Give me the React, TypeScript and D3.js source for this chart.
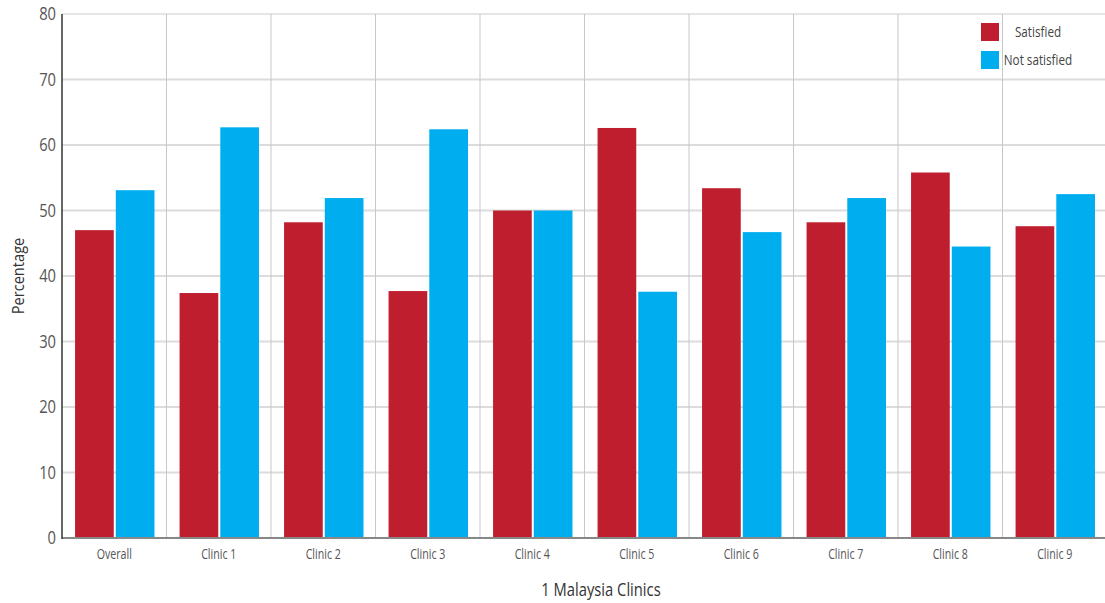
import React from "react";
import * as d3 from "d3";

const categories = ["Overall", "Clinic 1", "Clinic 2", "Clinic 3", "Clinic 4", "Clinic 5", "Clinic 6", "Clinic 7", "Clinic 8", "Clinic 9"];
const satisfied = [47.0, 37.4, 48.2, 37.7, 50.0, 62.6, 53.4, 48.2, 55.8, 47.6];
const notSatisfied = [53.1, 62.7, 51.9, 62.4, 50.0, 37.6, 46.7, 51.9, 44.5, 52.5];
const yTicks = [0, 10, 20, 30, 40, 50, 60, 70, 80];
const seriesNames = ["Satisfied", "Not satisfied"];
const colors = ["#BE1E2D", "#00AEEF"];

const W = 1105, H = 603;
const M = { left: 62, top: 14, right: 1107, bottom: 538 };
const FONT = "'Open Sans', sans-serif";

function T(props: { x: number; y: number; sx?: number; rot?: number; size: number; fill: string; anchor?: string; dy?: string; children: React.ReactNode }) {
  const { x, y, sx = 0.8, rot = 0, size, fill, anchor = "middle", dy, children } = props;
  return (
    <text transform={`translate(${x},${y}) rotate(${rot}) scale(${sx},1)`} textAnchor={anchor} fontSize={size} fill={fill} dy={dy}>
      {children}
    </text>
  );
}

export default function App() {
  const x = d3.scaleBand<string>().domain(categories).range([M.left, M.right]).paddingInner(0).paddingOuter(0);
  const y = d3.scaleLinear().domain([0, 80]).range([M.bottom, M.top]);
  const bw = x.bandwidth();
  const inner = d3.scaleBand<string>().domain(seriesNames).range([bw * 0.125, bw * 0.885]).paddingInner(0.05);
  const series = [satisfied, notSatisfied];

  return (
    <svg width={W} height={H} style={{ position: "fixed", left: 0, top: 0, background: "#fff" }} fontFamily={FONT}>
      {yTicks.map((t) => (
        <line key={"h" + t} x1={M.left} x2={W} y1={y(t)} y2={y(t)} stroke="#dcdcdc" strokeWidth={t === 80 ? 1.5 : 2} />
      ))}
      {categories.slice(1).map((c) => (
        <line key={"v" + c} x1={x(c)!} x2={x(c)!} y1={M.top} y2={M.bottom} stroke="#c8c8c8" strokeWidth={1} />
      ))}
      {categories.map((c, i) =>
        series.map((s, j) => (
          <rect key={c + j} x={x(c)! + inner(seriesNames[j])!} width={inner.bandwidth()} y={y(s[i])} height={y(0) - y(s[i])} fill={colors[j]} />
        ))
      )}
      <line x1={M.left} x2={W} y1={M.bottom} y2={M.bottom} stroke="#888" strokeWidth={2} />
      <line x1={M.left} x2={M.left} y1={M.top} y2={M.bottom + 1} stroke="#333" strokeWidth={1.5} />
      {yTicks.map((t) => (
        <T key={"yt" + t} x={M.left - 6} y={y(t)} dy="0.36em" anchor="end" size={18} sx={0.82} fill="#555">{t}</T>
      ))}
      {categories.map((c) => (
        <T key={"xt" + c} x={x(c)! + bw / 2} y={559} size={14} sx={0.76} fill="#555">{c}</T>
      ))}
      <T x={24} y={(M.top + M.bottom) / 2} rot={-90} size={17} sx={0.86} fill="#333">Percentage</T>
      <T x={601} y={596} size={18} sx={0.82} fill="#333">1 Malaysia Clinics</T>
      {seriesNames.map((n, j) => (
        <g key={n}>
          <rect x={981} y={23 + j * 28} width={18} height={18} fill={colors[j]} />
          <T x={1038} y={32 + j * 28} dy="0.35em" size={15} sx={0.78} fill="#444">{n}</T>
        </g>
      ))}
    </svg>
  );
}
